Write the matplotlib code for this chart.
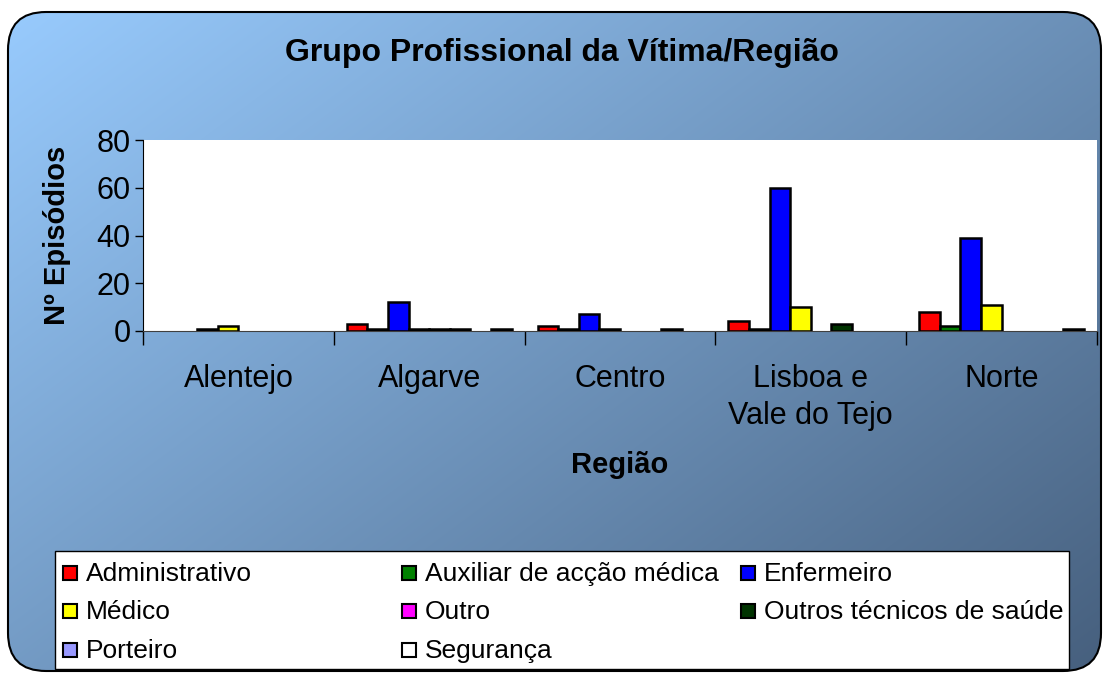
import numpy as np
import matplotlib
matplotlib.use('Agg')
import matplotlib.pyplot as plt
from matplotlib.patches import FancyBboxPatch, Rectangle

plt.rcParams['font.family'] = ['Liberation Sans', 'DejaVu Sans']

# data
regions = ['Alentejo', 'Algarve', 'Centro', 'Lisboa e\nVale do Tejo', 'Norte']
series = ['Administrativo', 'Auxiliar de acção médica', 'Enfermeiro',
          'Médico', 'Outro', 'Outros técnicos de saúde',
          'Porteiro', 'Segurança']
administrativo = [0, 3, 2, 4, 8]
auxiliar = [0, 1, 1, 1, 2]
enfermeiro = [1, 12, 7, 60, 39]
medico = [2, 1, 1, 10, 11]
outro = [0, 1, 0, 0, 0]
outros_tecnicos = [0, 1, 0, 3, 0]
porteiro = [0, 0, 1, 0, 0]
seguranca = [0, 1, 0, 0, 1]
values = [administrativo, auxiliar, enfermeiro, medico, outro,
          outros_tecnicos, porteiro, seguranca]
colors = ['#FF0000', '#008000', '#0000FF', '#FFFF00', '#FF00FF',
          '#003300', '#9999FF', '#FFFFFF']

W, H = 1105, 673
fig = plt.figure(figsize=(W / 100, H / 100), dpi=100)

# background in pixel coords
bg = fig.add_axes([0, 0, 1, 1])
bg.set_xlim(0, W)
bg.set_ylim(H, 0)
bg.axis('off')

# diagonal gradient, light top-left to dark bottom-right
yy, xx = np.mgrid[0:H, 0:W]
t = (xx / W * 0.55 + yy / H * 0.45)
c0 = np.array([153, 204, 255]) / 255
c1 = np.array([70, 95, 125]) / 255
grad = c0 + (c1 - c0) * t[..., None]
frame = FancyBboxPatch((8, 12), 1093, 659, boxstyle='round,pad=0,rounding_size=38',
                       facecolor='none', edgecolor='black', linewidth=1.5, zorder=3)
bg.add_patch(frame)
im = bg.imshow(grad, extent=(0, W, H, 0), zorder=1)
im.set_clip_path(frame)

bg.text(562, 53, 'Grupo Profissional da Vítima/Região', fontsize=23,
        fontweight='bold', ha='center', va='center')

# legend drawn by hand so the columns line up like the original
bg.add_patch(Rectangle((55, 551), 1014, 118, facecolor='white',
                       edgecolor='black', linewidth=1, zorder=4))
col_x = [63, 402, 741]
row_y = [573, 611, 650]
for i, (name, col) in enumerate(zip(series, colors)):
    cx = col_x[i % 3]
    ry = row_y[i // 3]
    bg.add_patch(Rectangle((cx, ry - 7), 14, 14, facecolor=col,
                           edgecolor='black', linewidth=1.5, zorder=5))
    bg.text(cx + 23, ry + 1, name, fontsize=19, ha='left', va='center', zorder=5)

# plot area
ax = fig.add_axes([143 / W, 1 - 331 / H, (1097 - 143) / W, (331 - 140) / H])
ax.set_facecolor('white')
x = np.arange(len(regions))
offset = 0.068
bw = (1 - 2 * offset) / len(series)
for i, (vals, col) in enumerate(zip(values, colors)):
    pos = x - 0.5 + offset + bw * (i + 0.5)
    # empty categories are not drawn at all in the original
    keep = [j for j, v in enumerate(vals) if v > 0]
    ax.bar(pos[keep], [vals[j] for j in keep], width=bw, color=col,
           edgecolor='black', linewidth=1.8, label=series[i], zorder=3)

ax.set_xlim(-0.5, len(regions) - 0.5)
ax.set_ylim(0, 80)
ax.set_yticks(np.arange(0, 81, 20))
ax.tick_params(axis='y', labelsize=22, length=6, width=1, direction='out', pad=3)
ax.set_xticks(x)
ax.set_xticklabels(regions, fontsize=22, linespacing=1.3)
ax.tick_params(axis='x', length=0, pad=24)
ax.set_xticks(np.arange(-0.5, len(regions)), minor=True)
ax.tick_params(axis='x', which='minor', length=10, width=1)
for s in ['top', 'right']:
    ax.spines[s].set_visible(False)
ax.spines['left'].set_color('black')
ax.spines['bottom'].set_color('#404040')

ax.set_xlabel('Região', fontsize=21, fontweight='bold', labelpad=14)
ax.set_ylabel('Nº Episódios', fontsize=21, fontweight='bold', labelpad=18)

fig.savefig('out.png', dpi=100)
